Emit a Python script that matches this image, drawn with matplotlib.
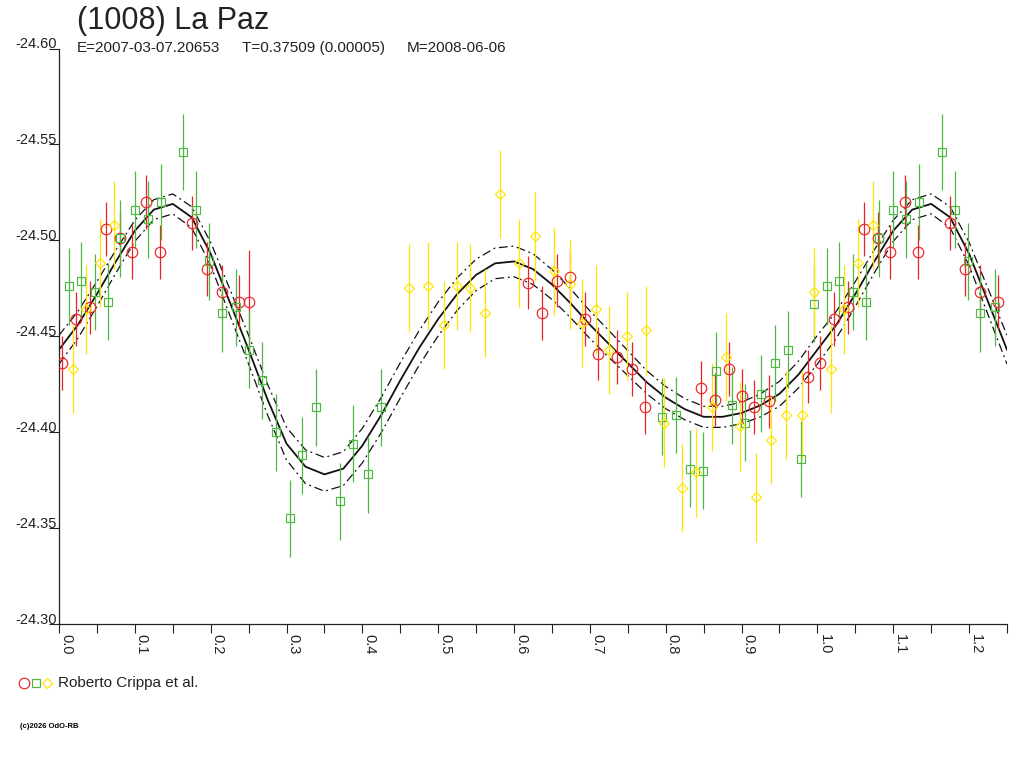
import numpy as np
import matplotlib
matplotlib.use('Agg')
import matplotlib.pyplot as plt
from matplotlib.lines import Line2D

plt.rcParams['font.family'] = ['Liberation Sans', 'DejaVu Sans']

# --- observations (phase, magnitude, error) ---
red_ph = [0.004, 0.022, 0.041, 0.062, 0.080, 0.096, 0.115, 0.133, 0.175, 0.195,
          0.215, 0.238, 0.251, 0.618, 0.637, 0.657, 0.674, 0.693, 0.711, 0.736,
          0.755, 0.773, 0.847, 0.865, 0.883, 0.901, 0.917, 0.936, 0.988]
red_mag = [-24.436, -24.459, -24.465, -24.506, -24.501, -24.494, -24.520, -24.494, -24.509, -24.485,
           -24.473, -24.468, -24.468, -24.478, -24.462, -24.479, -24.481, -24.459, -24.441, -24.439,
           -24.433, -24.413, -24.423, -24.417, -24.433, -24.419, -24.413, -24.416, -24.429]
red_err = [0.014] * 12 + [0.027] + [0.014] * 16

green_ph = [0.013, 0.029, 0.047, 0.064, 0.081, 0.100, 0.117, 0.134, 0.164, 0.181,
            0.198, 0.215, 0.234, 0.251, 0.268, 0.286, 0.305, 0.321, 0.339, 0.370,
            0.388, 0.407, 0.425, 0.795, 0.813, 0.832, 0.849, 0.866, 0.887, 0.905,
            0.925, 0.944, 0.961, 0.978, 0.996]
green_mag = [-24.476, -24.479, -24.473, -24.468, -24.501, -24.516, -24.511, -24.520, -24.546, -24.516,
             -24.489, -24.462, -24.465, -24.443, -24.427, -24.400, -24.355, -24.388, -24.413, -24.364,
             -24.394, -24.378, -24.413, -24.408, -24.409, -24.381, -24.380, -24.432, -24.414, -24.405,
             -24.420, -24.436, -24.443, -24.386, -24.467]
green_err = [0.020] * len(green_ph)

yellow_ph = [0.018, 0.035, 0.054, 0.073, 0.462, 0.487, 0.507, 0.525, 0.542, 0.562,
             0.582, 0.607, 0.628, 0.653, 0.674, 0.690, 0.708, 0.725, 0.749, 0.774,
             0.798, 0.821, 0.840, 0.861, 0.880, 0.898, 0.919, 0.939, 0.959, 0.980, 0.996]
yellow_mag = [-24.433, -24.464, -24.488, -24.508, -24.475, -24.476, -24.456, -24.476, -24.475, -24.462,
              -24.524, -24.488, -24.502, -24.484, -24.477, -24.457, -24.464, -24.443, -24.450, -24.453,
              -24.405, -24.371, -24.379, -24.413, -24.439, -24.403, -24.366, -24.396, -24.409, -24.409,
              -24.473]
yellow_err = [0.023] * len(yellow_ph)

# --- fitted curve, read every 0.025 in phase ---
fit_ph = np.arange(41) * 0.025
fit_mag = [-24.443, -24.456, -24.472, -24.489, -24.505, -24.516, -24.519, -24.512, -24.493, -24.468,
           -24.443, -24.417, -24.394, -24.382, -24.378, -24.381, -24.393, -24.409, -24.427, -24.444,
           -24.459, -24.472, -24.482, -24.488, -24.489, -24.485, -24.477, -24.467, -24.456, -24.446,
           -24.436, -24.426, -24.418, -24.412, -24.408, -24.408, -24.410, -24.414, -24.420, -24.430,
           -24.443]
fit_band = [0.0075, 0.0070, 0.0065, 0.0060, 0.0055, 0.0052, 0.0052, 0.0055, 0.0060, 0.0068,
            0.0075, 0.0080, 0.0085, 0.0088, 0.0088, 0.0088, 0.0090, 0.0092, 0.0092, 0.0090,
            0.0088, 0.0085, 0.0082, 0.0080, 0.0080, 0.0080, 0.0078, 0.0075, 0.0072, 0.0070,
            0.0065, 0.0060, 0.0058, 0.0055, 0.0055, 0.0055, 0.0056, 0.0060, 0.0065, 0.0070,
            0.0075]

title = '(1008) La Paz'
sub_parts = ['E=2007-03-07.20653', 'T=0.37509 (0.00005)', 'M=2008-06-06']
legend_label = 'Roberto Crippa et al.'
copyright_txt = '(c)2026 OdO-RB'

red = '#ec2227'
green = '#4fb843'
yellow = '#ffe500'


def wrap(ph, mag, err):
    ph = np.asarray(ph); mag = np.asarray(mag); err = np.asarray(err)
    m = ph < 0.25
    return (np.concatenate([ph, ph[m] + 1]), np.concatenate([mag, mag[m]]),
            np.concatenate([err, err[m]]))


fig = plt.figure(figsize=(10.24, 7.68), dpi=100)
ax = fig.add_axes([59 / 1024, 1 - 624 / 768, 948 / 1024, (624 - 48.5) / 768])

# curve over 0..1.25
fm = np.asarray(fit_mag); fb = np.asarray(fit_band)
ext = fit_ph <= 0.25
cph = np.concatenate([fit_ph, fit_ph[ext][1:] + 1])
cmag = np.concatenate([fm, fm[ext][1:]])
cband = np.concatenate([fb, fb[ext][1:]])
dash = (0, (7, 3, 1.5, 3))
ax.plot(cph, cmag, color='#111111', lw=1.3, zorder=2, solid_joinstyle='round')
ax.plot(cph, cmag - cband, color='#111111', lw=0.9, ls=dash, zorder=2)
ax.plot(cph, cmag + cband, color='#111111', lw=0.9, ls=dash, zorder=2)

for ph, mag, err, col, mk, ms in [(red_ph, red_mag, red_err, red, 'o', 7.6),
                                  (green_ph, green_mag, green_err, green, 's', 5.6),
                                  (yellow_ph, yellow_mag, yellow_err, yellow, 'D', 5.4)]:
    p, m, e = wrap(ph, mag, err)
    ax.errorbar(p, m, yerr=e, fmt=mk, mfc='none', mec=col, ecolor=col, ms=ms, mew=0.85,
                elinewidth=0.9, capsize=0, zorder=3)

ax.set_xlim(0, 1.25)
ax.set_ylim(-24.30, -24.60)
ax.spines['top'].set_visible(False)
ax.spines['right'].set_visible(False)
for s in ('left', 'bottom'):
    ax.spines[s].set_linewidth(0.9)
    ax.spines[s].set_color('#222222')

xt = np.arange(13) * 0.1
ax.set_xticks(xt)
ax.set_xticklabels(['%.1f' % v for v in xt], rotation=-90, ha='left', va='top', fontsize=10.5,
                   color='#222222')
ax.set_xticks(np.arange(25) * 0.05 + 0.05, minor=True)
ax.tick_params(axis='x', which='both', direction='out', length=6.5, width=0.8, pad=1, color='#222222')

yt = [-24.60, -24.55, -24.50, -24.45, -24.40, -24.35, -24.30]
ax.set_yticks(yt)
ax.set_yticklabels(['%.2f' % v for v in yt], fontsize=10.5, color='#222222')
for lab in ax.get_yticklabels():
    lab.set_va('baseline')
ax.tick_params(axis='y', direction='out', length=7, width=0.8, pad=-5.5, color='#222222')

fig.text(77 / 1024, 1 - 29.5 / 768, title, fontsize=22, va='baseline', color='#222222')
for x, s in zip([77, 242, 407], sub_parts):
    fig.text(x / 1024, 1 - 52 / 768, s, fontsize=11, va='baseline', color='#222222')

for x, col, mk, ms in [(24, red, 'o', 7.6), (36, green, 's', 5.6), (47, yellow, 'D', 5.4)]:
    fig.add_artist(Line2D([x / 1024], [1 - 683 / 768], transform=fig.transFigure, marker=mk,
                          ms=ms, mfc='none', mec=col, mew=0.85, ls='none'))
fig.text(58 / 1024, 1 - 683 / 768, legend_label, fontsize=11, va='center', color='#222222')
fig.text(20 / 1024, 1 - 726 / 768, copyright_txt, fontsize=5.5, fontweight='bold', va='center')

fig.savefig('out.png', dpi=100, facecolor='white')
